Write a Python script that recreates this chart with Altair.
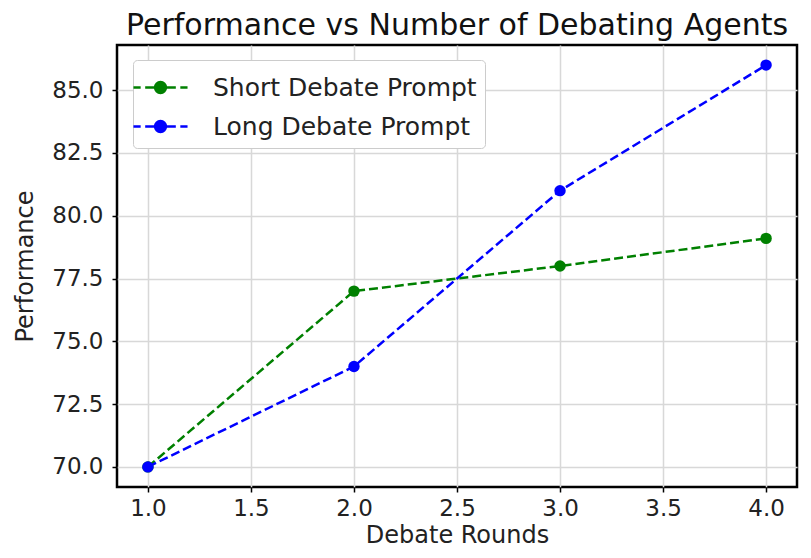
import altair as alt
import pandas as pd

rounds = [1, 2, 3, 4]
short_perf = [70.0, 77.0, 78.0, 79.1]
long_perf = [70.0, 74.0, 81.0, 86.0]
series = ["Short Debate Prompt", "Long Debate Prompt"]
colors = ["#008000", "#0000ff"]
x_ticks = [1.0, 1.5, 2.0, 2.5, 3.0, 3.5, 4.0]
y_ticks = [70.0, 72.5, 75.0, 77.5, 80.0, 82.5, 85.0]

rows = []
for r, v in zip(rounds, short_perf):
    rows.append({"Debate Rounds": r, "Performance": v, "Series": series[0]})
for r, v in zip(rounds, long_perf):
    rows.append({"Debate Rounds": r, "Performance": v, "Series": series[1]})
df = pd.DataFrame(rows)

legend_symbol = ("M-1.5,0H-1.1M-0.85,0H-0.3M0.3,0H0.85M1.1,0H1.5"
                 "M-0.3,0A0.3,0.3 0 1,0 0.3,0A0.3,0.3 0 1,0 -0.3,0Z")

FONT = "DejaVu Sans"

chart = alt.Chart(df).mark_line(
    strokeDash=[9, 4], strokeWidth=2.5,
    point=alt.OverlayMarkDef(filled=True, size=130, opacity=1),
).encode(
    x=alt.X("Debate Rounds:Q",
            scale=alt.Scale(domain=[0.85, 4.15], nice=False, zero=False),
            axis=alt.Axis(values=x_ticks, format=".1f", title="Debate Rounds")),
    y=alt.Y("Performance:Q",
            scale=alt.Scale(domain=[69.2, 86.8], nice=False, zero=False),
            axis=alt.Axis(values=y_ticks, format=".1f", title="Performance")),
    color=alt.Color("Series:N",
                    scale=alt.Scale(domain=series, range=colors),
                    sort=series,
                    legend=alt.Legend(
                        title=None, orient="none", legendX=16, legendY=15,
                        symbolType=legend_symbol, symbolSize=1300,
                        symbolStrokeWidth=2.5, labelFontSize=25, labelFont=FONT,
                        labelColor="#222", labelOffset=33, labelLimit=500,
                        rowPadding=6, padding=8,
                        strokeColor="#cccccc", fillColor="white",
                        cornerRadius=4, symbolOpacity=1)),
).properties(
    width=680, height=442,
    title=alt.TitleParams("Performance vs Number of Debating Agents",
                          fontSize=30, font=FONT, fontWeight="normal",
                          color="#111", offset=4, anchor="middle"),
    autosize=alt.AutoSizeParams(type="none"),
    padding={"left": 109, "top": 37, "right": 6, "bottom": 63},
).configure_view(
    stroke="black", strokeWidth=2.5,
).configure_axis(
    grid=True, gridColor="#d8d8d8", gridWidth=1.5,
    domain=False, tickColor="black", tickSize=5, tickWidth=1.5,
    labelFont=FONT, labelFontSize=23, labelColor="#222",
    titleFont=FONT, titleFontSize=24, titleFontWeight="normal", titleColor="#222",
).configure_axisY(titlePadding=14, labelPadding=9).configure_axisX(titlePadding=3, labelPadding=5)

chart.save("out.html", embed_options={"renderer": "svg", "actions": False})
